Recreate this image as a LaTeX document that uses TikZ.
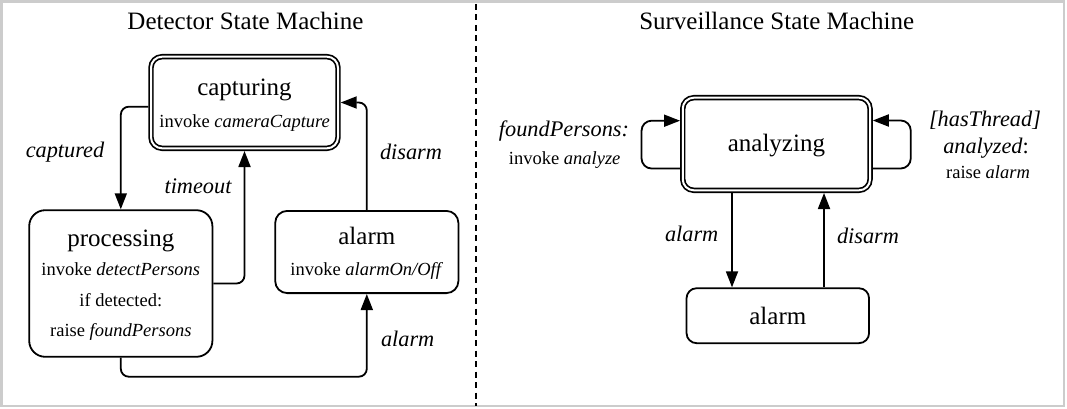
\documentclass[tikz,border=0pt]{standalone}
\usepackage{fontspec}
\setmainfont{Liberation Serif}
\usetikzlibrary{arrows.meta,calc}
\definecolor{framegray}{HTML}{CCCCCC}
\tikzset{
  statebox/.style={draw, line width=1.8pt, rounded corners=#1, inner sep=0pt, outer sep=0.9pt},
  dblbox/.style={draw, line width=1.7pt, double=white, double distance=2pt, rounded corners=11pt, inner sep=0pt, outer sep=2.7pt},
  conn/.style={line width=1.8pt, rounded corners=8pt},
  arr/.style={conn, -{Triangle[length=16pt,width=12pt]}},
  txt/.style={anchor=base, inner sep=0pt, font=\fontsize{18.5}{20}\selectfont},
  big/.style={anchor=base, inner sep=0pt, font=\fontsize{25}{28}\selectfont},
  lbl/.style={anchor=base, inner sep=0pt, font=\fontsize{22.3}{25}\selectfont\itshape},
}
\begin{document}
\begin{tikzpicture}[x=1pt,y=-1pt]
\useasboundingbox (0,0) rectangle (1067,409);
\draw[framegray, line width=2.6pt] (1.3,1.3) rectangle (1064,406);
\draw[line width=2pt, dash pattern=on 6pt off 4.5pt] (476,4) -- (476,406);

% titles
\node[big] (titleL) at (245.5,30) {Detector State Machine};
\node[big] (titleR) at (776.7,30) {Surveillance State Machine};

% left machine states
\node[dblbox, minimum width=187pt, minimum height=91.6pt] (capturing) at (244.5,102.5) {};
\node[statebox=16pt, minimum width=183.2pt, minimum height=146.6pt] (processing) at (120.8,283.5) {};
\node[statebox=12pt, minimum width=183.2pt, minimum height=82.2pt] (alarmL) at (366.8,252) {};

\node[big] (tCap1) at (244.5,96) {capturing};
\node[txt] (tCap2) at (244.7,127.3) {invoke \textit{cameraCapture}};
\node[big] (tProc1) at (120.8,246.7) {processing};
\node[txt] (tProc2) at (120.8,275) {invoke \textit{detectPersons}};
\node[txt] (tProc3) at (120.8,306.7) {if detected:};
\node[txt] (tProc4) at (120.8,336.7) {raise \textit{foundPersons}};
\node[big] (tAl1) at (366.8,244) {alarm};
\node[txt] (tAl2) at (366.8,275) {invoke \textit{alarmOn/Off}};

% left connectors
\draw[arr] ($(capturing.west)+(0,4.2)$) -| (processing.north);
\draw[arr] (processing.east) -| (capturing.south);
\draw[arr] (alarmL.north) |- (capturing.east);
\draw[arr] (processing.south) -- ++(0,19) -| (alarmL.south);

\node[lbl] (lCaptured) at (65,157) {captured};
\node[lbl] (lTimeout) at (198,193.3) {timeout};
\node[lbl] (lDisarmL) at (411,159) {disarm};
\node[lbl] (lAlarmL) at (407.7,346) {alarm};

% right machine states
\node[dblbox, minimum width=187.3pt, minimum height=92.6pt] (analyzing) at (776.4,144) {};
\node[statebox=10pt, minimum width=182.5pt, minimum height=54.9pt] (alarmR) at (777.8,315.7) {};
\node[big] (tAna) at (776.4,151.7) {analyzing};
\node[big] (tAlR) at (777.8,324) {alarm};

% right connectors
\coordinate (aOut) at ($(analyzing.south)+(-44.4,0)$);
\draw[arr] (aOut) -- (aOut |- alarmR.north);
\coordinate (dOut) at ($(alarmR.north)+(46.2,0)$);
\draw[arr] (dOut) -- (dOut |- analyzing.south);
\draw[arr, rounded corners=10pt] ($(analyzing.west)+(0,24.5)$) -- ++(-38.5,0) |- ($(analyzing.west)+(0,-23.3)$);
\draw[arr, rounded corners=10pt] ($(analyzing.east)+(0,24.5)$) -- ++(38,0) |- ($(analyzing.east)+(0,-23.5)$);

\node[lbl] (lFound) at (564,136.7) {foundPersons:};
\node[txt] (lInvAn) at (564.7,164) {invoke \textit{analyze}};
\node[lbl] (lHas) at (985,126) {[hasThread]};
\node[lbl] (lAnd) at (986,153.3) {analyzed{\upshape :}};
\node[txt] (lRaise) at (988,178.3) {raise \textit{alarm}};
\node[lbl] (lAlarmR) at (691.7,241.7) {alarm};
\node[lbl] (lDisarmR) at (868,243.3) {disarm};
\end{tikzpicture}
\end{document}
